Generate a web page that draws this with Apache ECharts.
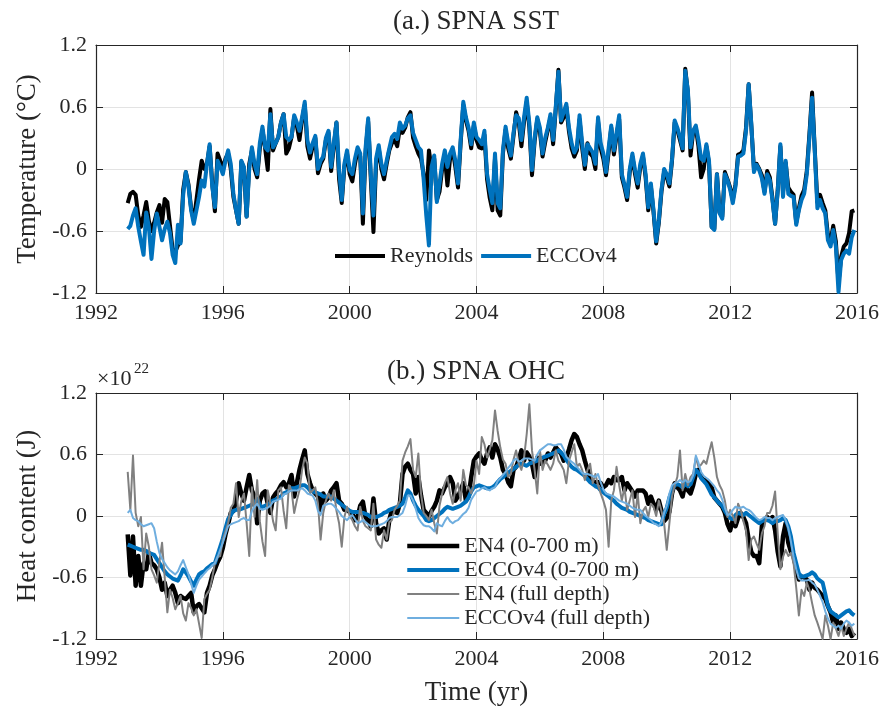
<!DOCTYPE html>
<html>
<head>
<meta charset="utf-8">
<script src="https://cdn.jsdelivr.net/npm/echarts@6/dist/echarts.min.js"></script>
<style>
  html, body { margin: 0; padding: 0; background: #ffffff; }
  #chart { width: 885px; height: 707px; }
</style>
</head>
<body>
<div id="chart"></div>
<script>
// Monthly series, January 1993 – December 2015 (one row per year)
const startYear = 1993;

// (a.) SPNA sea surface temperature anomaly (°C)
const sstReynolds = [
  -0.33, -0.24, -0.22, -0.25, -0.45, -0.56, -0.45, -0.32, -0.50, -0.60, -0.52, -0.42,
  -0.35, -0.52, -0.29, -0.32, -0.55, -0.78, -0.80, -0.74, -0.70, -0.20, -0.03, -0.15,
  -0.38, -0.50, -0.30, -0.10, 0.08, 0.00, 0.05, 0.22, -0.14, -0.41, 0.15, 0.08,
  0.00, 0.10, 0.15, 0.00, -0.27, -0.40, -0.53, 0.07, 0.00, -0.46, 0.05, 0.18,
  0.00, -0.08, 0.20, 0.38, 0.20, -0.01, 0.58, 0.18, 0.25, 0.31, 0.45, 0.53,
  0.15, 0.20, 0.31, 0.50, 0.42, 0.28, 0.48, 0.62, 0.22, 0.10, 0.22, 0.30,
  -0.04, 0.05, 0.10, 0.28, 0.35, -0.02, 0.22, 0.45, -0.10, -0.33, 0.02, 0.15,
  -0.05, -0.12, 0.05, 0.18, 0.12, -0.53, 0.15, 0.46, -0.10, -0.61, 0.05, 0.20,
  0.00, -0.10, 0.05, 0.18, 0.25, 0.28, 0.22, 0.40, 0.35, 0.40, 0.50, 0.55,
  0.30, 0.22, 0.15, 0.10, -0.05, -0.30, 0.18, 0.00, 0.10, -0.30, -0.22, 0.00,
  0.12, -0.16, 0.10, 0.18, 0.02, -0.18, 0.25, 0.62, 0.47, 0.37, 0.20, 0.42,
  0.28, 0.21, 0.20, 0.33, -0.10, -0.28, -0.40, 0.10, -0.40, -0.45, 0.15, 0.38,
  0.20, 0.10, 0.32, 0.55, 0.45, 0.22, 0.46, 0.65, 0.40, -0.06, 0.27, 0.48,
  0.36, 0.12, 0.26, 0.38, 0.50, 0.24, 0.58, 0.96, 0.45, 0.50, 0.60, 0.36,
  0.20, 0.12, 0.18, 0.48, 0.20, 0.00, 0.25, 0.15, 0.12, 0.00, 0.46, 0.20,
  0.10, -0.06, 0.16, 0.40, 0.14, 0.32, 0.48, -0.08, -0.18, -0.30, -0.03, 0.12,
  -0.05, -0.18, 0.02, 0.12, -0.08, -0.40, -0.17, -0.42, -0.72, -0.52, -0.22, -0.03,
  -0.08, -0.17, 0.08, 0.45, 0.38, 0.28, 0.18, 0.97, 0.74, 0.13, 0.36, 0.40,
  0.22, -0.08, 0.00, 0.22, 0.05, -0.56, -0.58, -0.05, -0.42, -0.46, -0.03, -0.10,
  -0.18, -0.30, -0.15, 0.14, 0.15, 0.18, 0.40, 0.82, 0.42, 0.00, 0.05, 0.00,
  -0.06, -0.22, -0.02, -0.08, -0.28, -0.53, -0.20, 0.22, -0.22, 0.06, -0.18, -0.22,
  -0.25, -0.52, -0.38, -0.26, -0.20, -0.02, 0.34, 0.74, 0.20, -0.32, -0.25, -0.33,
  -0.40, -0.64, -0.70, -0.55, -0.70, -1.10, -0.85, -0.75, -0.72, -0.62, -0.41, -0.40
];

const sstEcco = [
  -0.58, -0.55, -0.45, -0.38, -0.56, -0.70, -0.83, -0.42, -0.56, -0.87, -0.60, -0.43,
  -0.56, -0.69, -0.58, -0.51, -0.62, -0.83, -0.91, -0.54, -0.72, -0.25, -0.03, -0.17,
  -0.40, -0.53, -0.40, -0.27, -0.11, -0.17, 0.05, 0.24, -0.17, -0.37, 0.08, 0.02,
  -0.05, 0.08, 0.18, 0.05, -0.24, -0.40, -0.53, 0.08, 0.02, -0.46, 0.00, 0.21,
  0.05, -0.05, 0.25, 0.41, 0.21, 0.18, 0.53, 0.21, 0.25, 0.31, 0.45, 0.53,
  0.31, 0.28, 0.31, 0.52, 0.45, 0.37, 0.50, 0.65, 0.28, 0.16, 0.25, 0.32,
  0.00, 0.08, 0.12, 0.30, 0.37, 0.02, 0.25, 0.45, -0.01, -0.30, 0.05, 0.18,
  -0.01, -0.05, 0.10, 0.21, 0.15, -0.43, 0.20, 0.49, -0.05, -0.45, 0.10, 0.23,
  0.05, -0.05, 0.08, 0.20, 0.31, 0.34, 0.29, 0.45, 0.39, 0.42, 0.49, 0.52,
  0.35, 0.28, 0.21, 0.18, -0.10, -0.45, -0.74, 0.02, 0.13, -0.32, -0.14, 0.05,
  0.18, 0.02, 0.15, 0.21, 0.08, -0.14, 0.28, 0.65, 0.50, 0.40, 0.24, 0.45,
  0.31, 0.28, 0.24, 0.37, -0.05, -0.20, -0.33, 0.15, -0.33, -0.38, 0.18, 0.41,
  0.25, 0.13, 0.35, 0.52, 0.49, 0.28, 0.50, 0.69, 0.44, -0.01, 0.30, 0.50,
  0.40, 0.15, 0.30, 0.40, 0.53, 0.28, 0.60, 0.94, 0.47, 0.55, 0.63, 0.40,
  0.25, 0.16, 0.21, 0.52, 0.25, 0.04, 0.24, 0.20, 0.16, 0.05, 0.50, 0.25,
  0.15, -0.03, 0.20, 0.42, 0.18, 0.35, 0.52, -0.05, -0.15, -0.27, 0.00, 0.15,
  -0.01, -0.14, 0.05, 0.15, -0.05, -0.37, -0.14, -0.40, -0.70, -0.50, -0.20, 0.00,
  -0.05, -0.14, 0.10, 0.47, 0.40, 0.31, 0.20, 0.95, 0.76, 0.21, 0.37, 0.42,
  0.28, 0.10, 0.08, 0.24, 0.08, -0.56, -0.59, -0.05, -0.43, -0.48, -0.05, -0.11,
  -0.20, -0.33, -0.17, 0.12, 0.13, 0.15, 0.37, 0.82, 0.44, -0.03, 0.04, -0.01,
  -0.09, -0.24, -0.05, -0.11, -0.30, -0.53, -0.21, 0.24, -0.27, 0.08, -0.24, -0.26,
  -0.27, -0.54, -0.40, -0.30, -0.24, -0.05, 0.31, 0.69, 0.18, -0.38, -0.30, -0.38,
  -0.43, -0.69, -0.75, -0.59, -0.75, -1.19, -0.88, -0.82, -0.79, -0.82, -0.66, -0.59
];

// (b.) SPNA ocean heat content anomaly (units of 1e22 J)
const ohcEn4Upper = [
  -0.18, -0.58, -0.20, -0.68, -0.39, -0.68, -0.46, -0.52, -0.36, -0.46, -0.48, -0.52,
  -0.60, -0.72, -0.65, -0.78, -0.72, -0.68, -0.75, -0.85, -0.78, -0.80, -0.81, -0.78,
  -0.75, -0.94, -0.88, -0.86, -0.90, -0.94, -0.75, -0.68, -0.58, -0.52, -0.45, -0.40,
  -0.31, -0.18, -0.08, 0.03, 0.05, 0.15, 0.32, 0.22, 0.15, 0.28, 0.40, 0.25,
  0.19, -0.07, 0.15, 0.22, 0.24, 0.12, 0.03, 0.18, 0.22, 0.25, 0.30, 0.33,
  0.28, 0.32, 0.40, 0.19, 0.32, 0.45, 0.55, 0.64, 0.41, 0.32, 0.25, 0.22,
  0.19, 0.06, 0.22, 0.15, 0.18, 0.25, 0.28, 0.32, 0.15, 0.12, 0.06, 0.06,
  0.04, 0.03, -0.04, -0.01, 0.10, 0.14, -0.01, -0.05, -0.10, 0.17, -0.07, -0.17,
  -0.14, -0.12, -0.23, -0.04, 0.06, 0.04, 0.03, 0.12, 0.41, 0.48, 0.51, 0.45,
  0.41, 0.22, 0.38, 0.20, 0.06, 0.03, -0.01, 0.05, 0.09, 0.15, 0.25, 0.22,
  0.28, 0.32, 0.38, 0.32, 0.15, 0.19, 0.25, 0.32, 0.15, 0.19, 0.38, 0.54,
  0.58, 0.61, 0.55, 0.51, 0.61, 0.67, 0.57, 0.70, 0.65, 0.57, 0.45, 0.41,
  0.33, 0.29, 0.45, 0.48, 0.55, 0.64, 0.54, 0.62, 0.58, 0.51, 0.38, 0.57,
  0.51, 0.52, 0.54, 0.61, 0.57, 0.62, 0.67, 0.64, 0.61, 0.54, 0.57, 0.65,
  0.74, 0.80, 0.77, 0.70, 0.64, 0.54, 0.45, 0.38, 0.32, 0.33, 0.33, 0.32,
  0.28, 0.30, 0.35, 0.32, 0.38, 0.35, 0.35, 0.38, 0.25, 0.32, 0.28, 0.24,
  0.19, 0.25, 0.25, 0.25, 0.22, 0.12, 0.19, 0.12, 0.06, 0.15, 0.05, -0.05,
  -0.02, 0.04, 0.22, 0.32, 0.28, 0.25, 0.19, 0.32, 0.25, 0.22, 0.30, 0.41,
  0.45, 0.38, 0.35, 0.35, 0.32, 0.28, 0.18, 0.15, 0.12, 0.09, 0.03, -0.08,
  -0.14, -0.04, -0.10, -0.02, 0.03, -0.01, -0.07, -0.23, -0.35, -0.39, -0.39, -0.46,
  -0.10, -0.04, -0.01, -0.04, -0.01, -0.14, -0.35, -0.49, -0.20, -0.07, -0.26, -0.35,
  -0.39, -0.52, -0.62, -0.59, -0.60, -0.62, -0.72, -0.65, -0.70, -0.72, -0.75, -0.78,
  -0.81, -0.88, -0.94, -1.04, -0.97, -1.10, -1.04, -1.10, -1.14, -1.10, -1.17, -1.14
];

const ohcEccoUpper = [
  -0.28, -0.29, -0.30, -0.31, -0.32, -0.33, -0.33, -0.34, -0.36, -0.37, -0.38, -0.42,
  -0.46, -0.50, -0.54, -0.57, -0.59, -0.61, -0.62, -0.63, -0.58, -0.52, -0.55, -0.59,
  -0.64, -0.68, -0.62, -0.57, -0.55, -0.54, -0.51, -0.49, -0.47, -0.46, -0.38, -0.30,
  -0.22, -0.12, -0.03, 0.01, 0.05, 0.06, 0.06, 0.07, 0.08, 0.09, 0.10, 0.11,
  0.12, 0.17, 0.10, 0.09, 0.10, 0.11, 0.13, 0.15, 0.16, 0.18, 0.19, 0.22,
  0.23, 0.25, 0.27, 0.27, 0.28, 0.29, 0.30, 0.30, 0.28, 0.25, 0.24, 0.23,
  0.22, 0.21, 0.19, 0.19, 0.19, 0.19, 0.17, 0.15, 0.13, 0.11, 0.09, 0.07,
  0.05, 0.04, 0.04, 0.04, 0.03, 0.03, 0.02, 0.01, -0.01, -0.01, -0.01, 0.00,
  0.01, 0.03, 0.04, 0.06, 0.07, 0.08, 0.09, 0.10, 0.12, 0.18, 0.25, 0.22,
  0.15, 0.10, 0.06, 0.03, 0.00, -0.04, -0.05, -0.04, -0.02, 0.00, 0.02, 0.04,
  0.07, 0.09, 0.08, 0.07, 0.08, 0.09, 0.10, 0.12, 0.14, 0.18, 0.24, 0.28,
  0.29, 0.30, 0.29, 0.28, 0.27, 0.27, 0.28, 0.30, 0.33, 0.36, 0.38, 0.40,
  0.42, 0.44, 0.46, 0.48, 0.50, 0.51, 0.50, 0.49, 0.51, 0.52, 0.53, 0.54,
  0.56, 0.57, 0.58, 0.59, 0.60, 0.61, 0.62, 0.64, 0.62, 0.59, 0.55, 0.51,
  0.48, 0.46, 0.45, 0.43, 0.41, 0.39, 0.36, 0.33, 0.31, 0.29, 0.28, 0.25,
  0.23, 0.21, 0.19, 0.17, 0.15, 0.12, 0.10, 0.08, 0.07, 0.06, 0.04, 0.03,
  0.02, 0.01, 0.00, -0.01, -0.02, -0.04, -0.05, -0.06, -0.07, -0.08, -0.08, 0.02,
  0.08, 0.18, 0.25, 0.30, 0.31, 0.30, 0.28, 0.32, 0.29, 0.31, 0.38, 0.45,
  0.42, 0.37, 0.34, 0.31, 0.26, 0.21, 0.18, 0.15, 0.12, 0.10, 0.05, 0.01,
  -0.02, -0.03, 0.01, 0.03, 0.02, 0.01, 0.03, 0.01, -0.01, -0.03, -0.05, -0.07,
  -0.05, -0.04, -0.04, -0.05, -0.07, -0.05, -0.05, -0.04, -0.02, -0.04, -0.10, -0.20,
  -0.36, -0.46, -0.56, -0.59, -0.59, -0.58, -0.57, -0.55, -0.57, -0.61, -0.63, -0.65,
  -0.76, -0.88, -0.93, -0.95, -0.97, -0.99, -0.97, -0.95, -0.93, -0.92, -0.95, -0.97
];

const ohcEn4Full = [
  0.43, 0.06, 0.59, 0.03, -0.10, -0.01, -0.52, -0.17, -0.30, -0.52, -0.58, -0.65,
  -0.45, -0.26, -0.60, -0.94, -0.72, -0.80, -0.91, -0.85, -0.78, -0.95, -1.02, -0.85,
  -0.90, -0.97, -0.91, -1.05, -1.19, -0.81, -0.76, -0.72, -0.60, -0.46, -0.40, -0.39,
  -0.23, -0.15, -0.07, 0.08, 0.12, 0.32, -0.01, 0.15, 0.22, -0.07, -0.39, 0.28,
  -0.01, 0.35, -0.05, -0.25, -0.39, 0.25, 0.12, -0.05, -0.14, 0.25, 0.28, 0.05,
  -0.12, 0.30, 0.25, 0.03, 0.15, 0.25, 0.45, 0.57, 0.51, 0.22, 0.25, 0.28,
  0.12, -0.23, 0.03, 0.15, 0.22, 0.15, 0.25, 0.05, -0.07, -0.30, -0.01, 0.09,
  0.00, -0.04, -0.10, -0.14, 0.09, -0.05, -0.10, -0.12, -0.14, 0.12, -0.23, -0.28,
  -0.31, -0.14, -0.23, -0.06, -0.04, 0.06, 0.10, 0.15, 0.54, 0.62, 0.68, 0.75,
  0.45, 0.38, 0.61, 0.22, 0.03, 0.00, -0.04, 0.06, -0.07, -0.17, 0.10, 0.22,
  0.32, 0.38, 0.22, 0.12, 0.25, 0.32, 0.15, 0.45, 0.30, 0.28, 0.22, 0.30,
  0.54, 0.41, 0.77, 0.70, 0.57, 0.65, 0.74, 1.03, 0.83, 0.67, 0.55, 0.51,
  0.38, 0.41, 0.55, 0.64, 0.51, 0.45, 0.57, 0.80, 1.09, 0.64, 0.45, 0.22,
  0.64, 0.45, 0.54, 0.50, 0.45, 0.51, 0.64, 0.54, 0.50, 0.45, 0.32, 0.54,
  0.62, 0.70, 0.48, 0.51, 0.45, 0.35, 0.45, 0.51, 0.32, 0.41, 0.30, 0.22,
  0.15, 0.06, -0.30, 0.15, 0.25, 0.48, 0.30, 0.15, 0.28, 0.06, 0.15, 0.25,
  -0.01, 0.22, -0.07, 0.05, 0.09, -0.01, 0.12, 0.09, 0.00, 0.15, 0.05, -0.07,
  -0.33, -0.07, 0.19, 0.30, 0.38, 0.64, 0.25, 0.41, 0.30, 0.38, 0.41, 0.57,
  0.48, 0.50, 0.54, 0.51, 0.62, 0.72, 0.57, 0.38, 0.30, 0.25, 0.15, -0.01,
  0.06, 0.00, -0.07, 0.12, 0.06, -0.05, -0.14, -0.43, -0.23, -0.20, -0.27, -0.33,
  -0.17, -0.10, 0.03, 0.03, 0.10, 0.24, -0.17, -0.52, -0.40, -0.33, -0.39, -0.36,
  -0.46, -0.70, -0.97, -0.72, -0.78, -0.65, -0.72, -0.85, -0.97, -1.04, -1.12, -1.20,
  -0.97, -1.07, -1.20, -1.04, -1.10, -1.17, -1.07, -1.17, -1.10, -1.04, -1.10, -1.17
];

const ohcEccoFull = [
  0.03, 0.06, -0.02, -0.04, -0.05, -0.08, -0.10, -0.09, -0.08, -0.07, -0.12, -0.25,
  -0.36, -0.42, -0.46, -0.50, -0.53, -0.55, -0.57, -0.54, -0.48, -0.43, -0.50, -0.57,
  -0.66, -0.75, -0.68, -0.62, -0.59, -0.56, -0.53, -0.51, -0.48, -0.46, -0.40, -0.33,
  -0.26, -0.18, -0.10, -0.08, -0.07, -0.06, -0.05, -0.03, -0.02, -0.04, -0.04, 0.05,
  0.09, 0.12, 0.07, 0.06, 0.07, 0.08, 0.10, 0.14, 0.15, 0.16, 0.17, 0.21,
  0.22, 0.24, 0.25, 0.25, 0.25, 0.26, 0.27, 0.25, 0.22, 0.21, 0.20, 0.15,
  0.05, 0.01, 0.10, 0.11, 0.12, 0.12, 0.10, 0.07, 0.04, 0.00, -0.02, -0.04,
  -0.01, 0.01, -0.03, -0.07, -0.06, -0.04, -0.06, -0.08, -0.10, -0.10, -0.10, -0.09,
  -0.08, -0.07, -0.05, -0.02, -0.01, -0.01, -0.01, 0.01, 0.03, 0.10, 0.20, 0.20,
  0.15, 0.07, -0.02, -0.06, -0.09, -0.10, -0.10, -0.12, -0.15, -0.07, -0.09, -0.10,
  -0.05, -0.01, -0.05, -0.07, -0.05, -0.04, -0.01, 0.02, 0.04, 0.08, 0.16, 0.20,
  0.24, 0.25, 0.27, 0.28, 0.26, 0.25, 0.27, 0.28, 0.34, 0.37, 0.40, 0.43,
  0.47, 0.50, 0.54, 0.56, 0.53, 0.54, 0.56, 0.56, 0.56, 0.55, 0.54, 0.60,
  0.64, 0.66, 0.68, 0.70, 0.70, 0.69, 0.69, 0.70, 0.70, 0.65, 0.58, 0.55,
  0.53, 0.51, 0.48, 0.45, 0.42, 0.41, 0.41, 0.40, 0.39, 0.38, 0.41, 0.33,
  0.26, 0.22, 0.21, 0.20, 0.19, 0.17, 0.15, 0.14, 0.13, 0.12, 0.10, 0.08,
  0.07, 0.06, 0.06, 0.03, 0.00, -0.02, -0.04, -0.07, -0.08, -0.10, -0.06, 0.03,
  0.10, 0.22, 0.30, 0.32, 0.33, 0.35, 0.33, 0.35, 0.33, 0.34, 0.40, 0.59,
  0.52, 0.43, 0.39, 0.37, 0.35, 0.32, 0.29, 0.25, 0.22, 0.16, 0.08, 0.01,
  0.02, 0.06, 0.09, 0.08, 0.08, 0.09, 0.07, 0.06, 0.04, 0.01, -0.02, -0.04,
  -0.03, -0.01, -0.02, -0.02, -0.04, -0.02, -0.01, 0.00, 0.01, -0.04, -0.12, -0.25,
  -0.40, -0.52, -0.61, -0.63, -0.63, -0.63, -0.62, -0.65, -0.67, -0.72, -0.78, -0.84,
  -0.93, -1.00, -1.05, -1.07, -1.09, -1.07, -1.10, -1.05, -1.02, -1.04, -1.07, -1.05
];

// Axis ranges and ticks
const yearTicks = [1992, 1996, 2000, 2004, 2008, 2012, 2016];
const valueTicks = [-1.2, -0.6, 0, 0.6, 1.2];

const serif = '"Liberation Serif", "DejaVu Serif", serif';
const ink = '#262626';
const gridColor = '#e3e3e3';

const toPairs = arr => arr.map((v, i) => [startYear + i / 12, v]);

const fmtValue = v => (Math.abs(v) < 1e-9 ? '0' : v.toFixed(1));

function xAxisFor(gridIndex, position, opts) {
  const showLabel = position === 'bottom';
  return Object.assign({
    type: 'value', gridIndex, position,
    min: yearTicks[0], max: yearTicks[yearTicks.length - 1],
    interval: yearTicks[1] - yearTicks[0],
    axisLine: { show: true, onZero: false, lineStyle: { color: ink, width: 1.2 } },
    axisTick: { show: true, inside: true, length: 7, lineStyle: { color: ink, width: 1 } },
    axisLabel: { show: showLabel, color: ink, fontFamily: serif, fontSize: 22, margin: 9,
                 formatter: v => String(v) },
    splitLine: { show: showLabel, lineStyle: { color: gridColor, width: 1 } }
  }, opts || {});
}

function yAxisFor(gridIndex, position, opts) {
  const showLabel = position === 'left';
  return Object.assign({
    type: 'value', gridIndex, position,
    min: valueTicks[0], max: valueTicks[valueTicks.length - 1],
    interval: valueTicks[1] - valueTicks[0],
    axisLine: { show: true, onZero: false, lineStyle: { color: ink, width: 1.2 } },
    axisTick: { show: true, inside: true, length: 7, lineStyle: { color: ink, width: 1 } },
    axisLabel: { show: showLabel, color: ink, fontFamily: serif, fontSize: 22, margin: 9,
                 formatter: fmtValue },
    splitLine: { show: showLabel, lineStyle: { color: gridColor, width: 1 } }
  }, opts || {});
}

const axisName = {
  nameLocation: 'middle',
  nameTextStyle: { color: ink, fontFamily: serif, fontSize: 27 }
};

function line(name, data, xi, yi, color, width, z) {
  return {
    name, type: 'line', xAxisIndex: xi, yAxisIndex: yi,
    data: toPairs(data), symbol: 'none', showSymbol: false, clip: true,
    lineStyle: { color, width, join: 'round' }, itemStyle: { color },
    z, animation: false
  };
}

const legendCommon = {
  lineStyle: { width: 'inherit' },
  itemStyle: { opacity: 0 },
  textStyle: { color: ink, fontFamily: serif, fontSize: 22 },
  backgroundColor: 'transparent',
  selectedMode: false
};

const chart = echarts.init(document.getElementById('chart'), null, { renderer: 'canvas' });

chart.setOption({
  backgroundColor: '#ffffff',
  animation: false,
  grid: [
    { left: 96, top: 45, width: 761, height: 248 },
    { left: 96, top: 393, width: 761, height: 248 }
  ],
  xAxis: [
    xAxisFor(0, 'bottom'),
    xAxisFor(0, 'top'),
    xAxisFor(1, 'bottom', Object.assign({ name: 'Time (yr)', nameGap: 40 }, axisName)),
    xAxisFor(1, 'top')
  ],
  yAxis: [
    yAxisFor(0, 'left', Object.assign({ name: 'Temperature (°C)', nameGap: 55, nameRotate: 90 }, axisName)),
    yAxisFor(0, 'right'),
    yAxisFor(1, 'left', Object.assign({ name: 'Heat content (J)', nameGap: 55, nameRotate: 90 }, axisName)),
    yAxisFor(1, 'right')
  ],
  legend: [
    Object.assign({
      data: ['Reynolds', 'ECCOv4'],
      orient: 'horizontal', left: 328, top: 240,
      itemWidth: 50, itemHeight: 14, itemGap: 6
    }, legendCommon),
    Object.assign({
      data: ['EN4 (0-700 m)', 'ECCOv4 (0-700 m)', 'EN4 (full depth)', 'ECCOv4 (full depth)'],
      orient: 'vertical', left: 400, top: 530,
      itemWidth: 52, itemHeight: 14, itemGap: 2
    }, legendCommon)
  ],
  graphic: [
    { type: 'text', x: 476, y: 22, silent: true,
      style: { text: '(a.) SPNA SST', fill: ink, fontFamily: serif, fontSize: 27, align: 'center', verticalAlign: 'middle' } },
    { type: 'text', x: 476, y: 372, silent: true,
      style: { text: '(b.) SPNA OHC', fill: ink, fontFamily: serif, fontSize: 27, align: 'center', verticalAlign: 'middle' } },
    { type: 'text', x: 97, y: 379, silent: true,
      style: { text: '×10', fill: ink, fontFamily: serif, fontSize: 22, align: 'left', verticalAlign: 'middle' } },
    { type: 'text', x: 134, y: 369, silent: true,
      style: { text: '22', fill: ink, fontFamily: serif, fontSize: 15, align: 'left', verticalAlign: 'middle' } }
  ],
  series: [
    line('Reynolds', sstReynolds, 0, 0, '#000000', 4, 2),
    line('ECCOv4', sstEcco, 0, 0, '#0072BD', 4, 3),
    line('EN4 (0-700 m)', ohcEn4Upper, 2, 2, '#000000', 4.5, 2),
    line('ECCOv4 (0-700 m)', ohcEccoUpper, 2, 2, '#0072BD', 4, 3),
    line('EN4 (full depth)', ohcEn4Full, 2, 2, '#808080', 2, 4),
    line('ECCOv4 (full depth)', ohcEccoFull, 2, 2, '#6FAEDF', 2, 5)
  ]
});
</script>
</body>
</html>
